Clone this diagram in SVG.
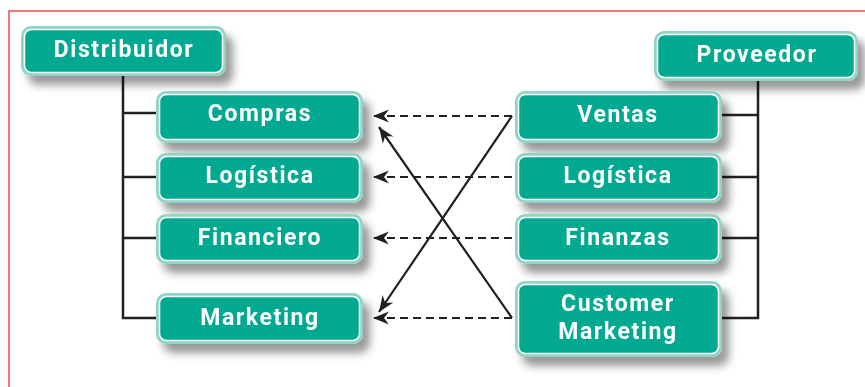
<svg xmlns="http://www.w3.org/2000/svg" width="865" height="387" viewBox="0 0 865 387">
  <defs>
    <filter id="shadow" x="-10%" y="-20%" width="130%" height="170%">
      <feDropShadow dx="7" dy="9" stdDeviation="4" flood-color="#000" flood-opacity="0.4"/>
    </filter>
    <marker id="barb" viewBox="-18 -8 19 16" refX="0" refY="0" markerWidth="19" markerHeight="16" markerUnits="userSpaceOnUse" orient="auto">
      <path d="M0,0 L-16,-6.5 L-11,0 L-16,6.5 Z" fill="#231f20"/>
    </marker>
    <style>
      .frame { fill: none; stroke: #f07b7b; stroke-width: 2; }
      .box-outer { fill: #8fd4c5; }
      .box-inner { fill: #00a98f; stroke: #ffffff; stroke-width: 1.5; }
      .label { font-family: "Roboto", "Liberation Sans", sans-serif; font-weight: 700; font-size: 23px; fill: #ffffff; text-anchor: middle; letter-spacing: 1.6px; }
      .bus { fill: none; stroke: #231f20; stroke-width: 2.5; }
      .dash { fill: none; stroke: #231f20; stroke-width: 2.2; stroke-dasharray: 8 5; }
      .cross { fill: none; stroke: #231f20; stroke-width: 2.2; }
    </style>
  </defs>

  <rect width="865" height="387" fill="#ffffff"/>
  <!-- page frame (top and left edges) -->
  <path class="frame" d="M9,387 L9,11 L865,11"/>

  <!-- connectors -->
  <g id="connectors">
    <path class="bus" d="M123,76 L123,318 L156,318 M123,113 L156,113 M123,177 L156,177 M123,238 L156,238"/>
    <path class="bus" d="M758,81 L758,318 L722,318 M758,115 L722,115 M758,177 L722,177 M758,238 L722,238"/>
    <path class="dash" d="M512,116 L373,116" marker-end="url(#barb)"/>
    <path class="dash" d="M512,177 L373,177" marker-end="url(#barb)"/>
    <path class="dash" d="M512,238 L373,238" marker-end="url(#barb)"/>
    <path class="dash" d="M512,318 L373,318" marker-end="url(#barb)"/>
    <path class="cross" d="M512,116 L379,312" marker-end="url(#barb)"/>
    <path class="cross" d="M512,318 L379,127" marker-end="url(#barb)"/>
  </g>

  <!-- organisation heads -->
  <g id="distribuidor" filter="url(#shadow)">
    <rect class="box-outer" x="21" y="26" width="205" height="50" rx="10"/>
    <rect class="box-inner" x="24.5" y="29.5" width="198" height="43" rx="7"/>
    <text class="label" x="124" y="57">Distribuidor</text>
  </g>
  <g id="proveedor" filter="url(#shadow)">
    <rect class="box-outer" x="654" y="31" width="204" height="50" rx="10"/>
    <rect class="box-inner" x="657.5" y="34.5" width="197" height="43" rx="7"/>
    <text class="label" x="757" y="62">Proveedor</text>
  </g>

  <!-- distributor departments -->
  <g id="compras" filter="url(#shadow)">
    <rect class="box-outer" x="156" y="91" width="207" height="52" rx="10"/>
    <rect class="box-inner" x="159.5" y="94.5" width="200" height="45" rx="7"/>
    <text class="label" x="260" y="121">Compras</text>
  </g>
  <g id="logistica-d" filter="url(#shadow)">
    <rect class="box-outer" x="156" y="153" width="207" height="50" rx="10"/>
    <rect class="box-inner" x="159.5" y="156.5" width="200" height="43" rx="7"/>
    <text class="label" x="260" y="183">Logística</text>
  </g>
  <g id="financiero" filter="url(#shadow)">
    <rect class="box-outer" x="156" y="214" width="207" height="50" rx="10"/>
    <rect class="box-inner" x="159.5" y="217.5" width="200" height="43" rx="7"/>
    <text class="label" x="260" y="245">Financiero</text>
  </g>
  <g id="marketing" filter="url(#shadow)">
    <rect class="box-outer" x="156" y="293" width="207" height="51" rx="10"/>
    <rect class="box-inner" x="159.5" y="296.5" width="200" height="44" rx="7"/>
    <text class="label" x="260" y="325">Marketing</text>
  </g>

  <!-- supplier departments -->
  <g id="ventas" filter="url(#shadow)">
    <rect class="box-outer" x="515" y="91" width="207" height="52" rx="10"/>
    <rect class="box-inner" x="518.5" y="94.5" width="200" height="45" rx="7"/>
    <text class="label" x="618" y="122">Ventas</text>
  </g>
  <g id="logistica-p" filter="url(#shadow)">
    <rect class="box-outer" x="515" y="153" width="207" height="50" rx="10"/>
    <rect class="box-inner" x="518.5" y="156.5" width="200" height="43" rx="7"/>
    <text class="label" x="618" y="183">Logística</text>
  </g>
  <g id="finanzas" filter="url(#shadow)">
    <rect class="box-outer" x="515" y="214" width="207" height="50" rx="10"/>
    <rect class="box-inner" x="518.5" y="217.5" width="200" height="43" rx="7"/>
    <text class="label" x="618" y="245">Finanzas</text>
  </g>
  <g id="customer-marketing" filter="url(#shadow)">
    <rect class="box-outer" x="515" y="281" width="207" height="76" rx="10"/>
    <rect class="box-inner" x="518.5" y="284.5" width="200" height="69" rx="7"/>
    <text class="label" x="618" y="311">Customer</text>
    <text class="label" x="618" y="339">Marketing</text>
  </g>
</svg>
